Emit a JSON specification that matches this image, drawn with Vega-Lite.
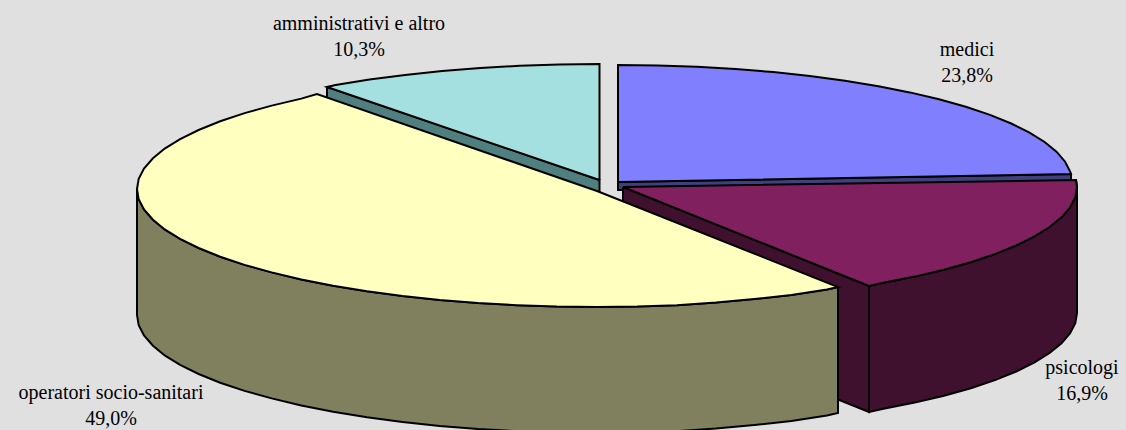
{"$schema":"https://vega.github.io/schema/vega-lite/v6.json","width":1126,"height":430,"padding":0,"autosize":{"type":"none"},"background":"#E0E0E0","config":{"view":{"stroke":null}},
"datasets":{"outline":[
{"part":"a1","n":1,"x":327,"y":87},{"part":"a1","n":2,"x":599.5,"y":180},{"part":"a1","n":3,"x":599.5,"y":196},{"part":"a1","n":4,"x":327,"y":99},{"part":"a1","n":5,"x":327,"y":87},
{"part":"a2","n":1,"x":599.5,"y":180},{"part":"a2","n":2,"x":599.5,"y":64},{"part":"a2","n":3,"x":559.4,"y":64.4},{"part":"a2","n":4,"x":519.6,"y":65.8},{"part":"a2","n":5,"x":480.4,"y":68},{"part":"a2","n":6,"x":442.2,"y":71},{"part":"a2","n":7,"x":405.1,"y":74.9},{"part":"a2","n":8,"x":369.5,"y":79.5},{"part":"a2","n":9,"x":335.6,"y":85},{"part":"a2","n":10,"x":327,"y":87},{"part":"a2","n":11,"x":599.5,"y":180},
{"part":"b1","n":1,"x":618,"y":182},{"part":"b1","n":2,"x":1071,"y":174},{"part":"b1","n":3,"x":1071,"y":182},{"part":"b1","n":4,"x":618,"y":190},{"part":"b1","n":5,"x":618,"y":182},
{"part":"b2","n":1,"x":618,"y":182},{"part":"b2","n":2,"x":618,"y":65},{"part":"b2","n":3,"x":657.6,"y":65.4},{"part":"b2","n":4,"x":696.8,"y":66.8},{"part":"b2","n":5,"x":735.5,"y":69},{"part":"b2","n":6,"x":773.3,"y":72.1},{"part":"b2","n":7,"x":809.9,"y":76},{"part":"b2","n":8,"x":845,"y":80.7},{"part":"b2","n":9,"x":878.4,"y":86.2},{"part":"b2","n":10,"x":909.8,"y":92.4},{"part":"b2","n":11,"x":939,"y":99.3},{"part":"b2","n":12,"x":965.8,"y":106.8},{"part":"b2","n":13,"x":990,"y":114.9},{"part":"b2","n":14,"x":1011.2,"y":123.5},{"part":"b2","n":15,"x":1029.5,"y":132.6},{"part":"b2","n":16,"x":1044.6,"y":142},{"part":"b2","n":17,"x":1056.5,"y":151.7},{"part":"b2","n":18,"x":1065.1,"y":161.7},{"part":"b2","n":19,"x":1070.3,"y":171.8},{"part":"b2","n":20,"x":1071,"y":174},{"part":"b2","n":21,"x":618,"y":182},
{"part":"c1","n":1,"x":623,"y":187},{"part":"c1","n":2,"x":869,"y":286},{"part":"c1","n":3,"x":869,"y":412},{"part":"c1","n":4,"x":623,"y":313},{"part":"c1","n":5,"x":623,"y":187},
{"part":"c2","n":1,"x":1076,"y":180},{"part":"c2","n":2,"x":1077,"y":187},{"part":"c2","n":3,"x":1075.3,"y":197.2},{"part":"c2","n":4,"x":1070.1,"y":207.3},{"part":"c2","n":5,"x":1061.5,"y":217.3},{"part":"c2","n":6,"x":1049.6,"y":227},{"part":"c2","n":7,"x":1034.5,"y":236.4},{"part":"c2","n":8,"x":1016.2,"y":245.5},{"part":"c2","n":9,"x":994.9,"y":254.1},{"part":"c2","n":10,"x":970.8,"y":262.2},{"part":"c2","n":11,"x":944,"y":269.7},{"part":"c2","n":12,"x":914.8,"y":276.6},{"part":"c2","n":13,"x":883.4,"y":282.8},{"part":"c2","n":14,"x":869,"y":286},{"part":"c2","n":15,"x":869,"y":412},{"part":"c2","n":16,"x":883.4,"y":408.8},{"part":"c2","n":17,"x":914.8,"y":402.6},{"part":"c2","n":18,"x":944,"y":395.7},{"part":"c2","n":19,"x":970.8,"y":388.2},{"part":"c2","n":20,"x":994.9,"y":380.1},{"part":"c2","n":21,"x":1016.2,"y":371.5},{"part":"c2","n":22,"x":1034.5,"y":362.4},{"part":"c2","n":23,"x":1049.6,"y":353},{"part":"c2","n":24,"x":1061.5,"y":343.3},{"part":"c2","n":25,"x":1070.1,"y":333.3},{"part":"c2","n":26,"x":1075.3,"y":323.2},{"part":"c2","n":27,"x":1077,"y":313},{"part":"c2","n":28,"x":1077,"y":187},{"part":"c2","n":29,"x":1076,"y":180},
{"part":"c3","n":1,"x":623,"y":187},{"part":"c3","n":2,"x":1076,"y":180},{"part":"c3","n":3,"x":1077,"y":187},{"part":"c3","n":4,"x":1075.3,"y":197.2},{"part":"c3","n":5,"x":1070.1,"y":207.3},{"part":"c3","n":6,"x":1061.5,"y":217.3},{"part":"c3","n":7,"x":1049.6,"y":227},{"part":"c3","n":8,"x":1034.5,"y":236.4},{"part":"c3","n":9,"x":1016.2,"y":245.5},{"part":"c3","n":10,"x":994.9,"y":254.1},{"part":"c3","n":11,"x":970.8,"y":262.2},{"part":"c3","n":12,"x":944,"y":269.7},{"part":"c3","n":13,"x":914.8,"y":276.6},{"part":"c3","n":14,"x":883.4,"y":282.8},{"part":"c3","n":15,"x":869,"y":286},{"part":"c3","n":16,"x":623,"y":187},
{"part":"d1","n":1,"x":838,"y":287},{"part":"d1","n":2,"x":827,"y":289.5},{"part":"d1","n":3,"x":791.4,"y":295},{"part":"d1","n":4,"x":754.3,"y":299},{"part":"d1","n":5,"x":716,"y":302.5},{"part":"d1","n":6,"x":676.9,"y":305.2},{"part":"d1","n":7,"x":637.1,"y":306.6},{"part":"d1","n":8,"x":597,"y":307},{"part":"d1","n":9,"x":556.9,"y":306.6},{"part":"d1","n":10,"x":517.1,"y":305.2},{"part":"d1","n":11,"x":478,"y":303},{"part":"d1","n":12,"x":439.7,"y":299.9},{"part":"d1","n":13,"x":402.6,"y":295.9},{"part":"d1","n":14,"x":367,"y":291.2},{"part":"d1","n":15,"x":333.1,"y":285.7},{"part":"d1","n":16,"x":301.3,"y":279.4},{"part":"d1","n":17,"x":271.7,"y":272.4},{"part":"d1","n":18,"x":244.6,"y":264.9},{"part":"d1","n":19,"x":220.2,"y":256.7},{"part":"d1","n":20,"x":198.6,"y":248},{"part":"d1","n":21,"x":180.1,"y":238.9},{"part":"d1","n":22,"x":164.7,"y":229.4},{"part":"d1","n":23,"x":152.7,"y":219.5},{"part":"d1","n":24,"x":144,"y":209.5},{"part":"d1","n":25,"x":138.7,"y":199.3},{"part":"d1","n":26,"x":137,"y":189},{"part":"d1","n":27,"x":137,"y":315},{"part":"d1","n":28,"x":138.7,"y":325.3},{"part":"d1","n":29,"x":144,"y":335.5},{"part":"d1","n":30,"x":152.7,"y":345.5},{"part":"d1","n":31,"x":164.7,"y":355.4},{"part":"d1","n":32,"x":180.1,"y":364.9},{"part":"d1","n":33,"x":198.6,"y":374},{"part":"d1","n":34,"x":220.2,"y":382.7},{"part":"d1","n":35,"x":244.6,"y":390.9},{"part":"d1","n":36,"x":271.7,"y":398.4},{"part":"d1","n":37,"x":301.3,"y":405.4},{"part":"d1","n":38,"x":333.1,"y":411.7},{"part":"d1","n":39,"x":367,"y":417.2},{"part":"d1","n":40,"x":402.6,"y":421.9},{"part":"d1","n":41,"x":439.7,"y":425.9},{"part":"d1","n":42,"x":478,"y":429},{"part":"d1","n":43,"x":517.1,"y":431.2},{"part":"d1","n":44,"x":556.9,"y":432.6},{"part":"d1","n":45,"x":597,"y":433},{"part":"d1","n":46,"x":637.1,"y":432.6},{"part":"d1","n":47,"x":676.9,"y":431.2},{"part":"d1","n":48,"x":716,"y":428.5},{"part":"d1","n":49,"x":754.3,"y":425},{"part":"d1","n":50,"x":791.4,"y":421},{"part":"d1","n":51,"x":827,"y":415.5},{"part":"d1","n":52,"x":838,"y":413},{"part":"d1","n":53,"x":838,"y":287},
{"part":"d2","n":1,"x":597,"y":191},{"part":"d2","n":2,"x":838,"y":287},{"part":"d2","n":3,"x":827,"y":289.5},{"part":"d2","n":4,"x":791.4,"y":295},{"part":"d2","n":5,"x":754.3,"y":299},{"part":"d2","n":6,"x":716,"y":302.5},{"part":"d2","n":7,"x":676.9,"y":305.2},{"part":"d2","n":8,"x":637.1,"y":306.6},{"part":"d2","n":9,"x":597,"y":307},{"part":"d2","n":10,"x":556.9,"y":306.6},{"part":"d2","n":11,"x":517.1,"y":305.2},{"part":"d2","n":12,"x":478,"y":303},{"part":"d2","n":13,"x":439.7,"y":299.9},{"part":"d2","n":14,"x":402.6,"y":295.9},{"part":"d2","n":15,"x":367,"y":291.2},{"part":"d2","n":16,"x":333.1,"y":285.7},{"part":"d2","n":17,"x":301.3,"y":279.4},{"part":"d2","n":18,"x":271.7,"y":272.4},{"part":"d2","n":19,"x":244.6,"y":264.9},{"part":"d2","n":20,"x":220.2,"y":256.7},{"part":"d2","n":21,"x":198.6,"y":248},{"part":"d2","n":22,"x":180.1,"y":238.9},{"part":"d2","n":23,"x":164.7,"y":229.4},{"part":"d2","n":24,"x":152.7,"y":219.5},{"part":"d2","n":25,"x":144,"y":209.5},{"part":"d2","n":26,"x":138.7,"y":199.3},{"part":"d2","n":27,"x":137,"y":189},{"part":"d2","n":28,"x":138.7,"y":178.7},{"part":"d2","n":29,"x":144,"y":168.5},{"part":"d2","n":30,"x":152.7,"y":158.5},{"part":"d2","n":31,"x":164.7,"y":148.6},{"part":"d2","n":32,"x":180.1,"y":139.1},{"part":"d2","n":33,"x":198.6,"y":130},{"part":"d2","n":34,"x":220.2,"y":121.3},{"part":"d2","n":35,"x":244.6,"y":113.1},{"part":"d2","n":36,"x":271.7,"y":105.6},{"part":"d2","n":37,"x":301.3,"y":98.6},{"part":"d2","n":38,"x":317,"y":94},{"part":"d2","n":39,"x":597,"y":191}
],
"labels":[
{"label":["amministrativi e altro","10,3%"],"x":359,"y":24},
{"label":["medici","23,8%"],"x":967,"y":50},
{"label":["psicologi","16,9%"],"x":1082,"y":368},
{"label":["operatori socio-sanitari","49,0%"],"x":111,"y":393}
]},
"layer":[
{"data":{"name":"outline"},"mark":{"type":"line","stroke":"#000000","strokeWidth":2,"strokeJoin":"miter","clip":true},
"encoding":{"x":{"field":"x","type":"quantitative","scale":{"domain":[0,1126],"nice":false,"zero":false},"axis":null},
"y":{"field":"y","type":"quantitative","scale":{"domain":[430,0],"nice":false,"zero":false},"axis":null},
"order":{"field":"n","type":"quantitative"},
"detail":{"field":"part"},
"fill":{"field":"part","type":"nominal","legend":null,"scale":{"domain":["a1","a2","b1","b2","c1","c2","c3","d1","d2"],"range":["#507F7F","#A5E0E0","#40407F","#8080FF","#40102F","#40102F","#80205F","#80805F","#FFFFC0"]}}}},
{"data":{"name":"labels"},"mark":{"type":"text","font":"Liberation Serif","fontSize":20,"lineHeight":26,"color":"#000000","align":"center","baseline":"middle"},
"encoding":{"x":{"field":"x","type":"quantitative"},"y":{"field":"y","type":"quantitative"},"text":{"field":"label"}}}
]}
